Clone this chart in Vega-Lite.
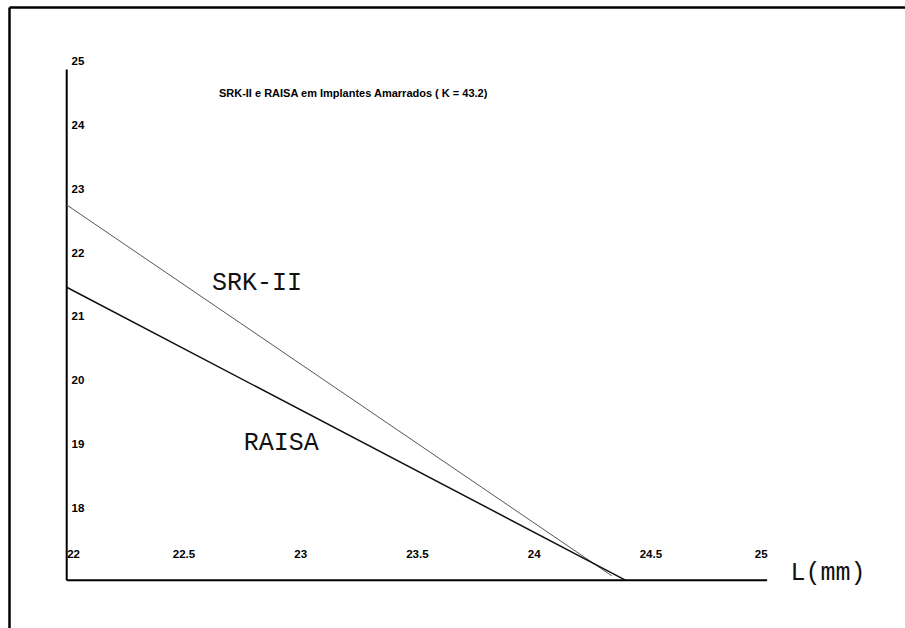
{
  "$schema": "https://vega.github.io/schema/vega-lite/v6.json",
  "width": 896,
  "height": 621,
  "autosize": {"type": "none"},
  "padding": {"left": 9, "top": 7, "right": 0, "bottom": 0},
  "background": "white",
  "config": {"view": {"stroke": null}},
  "datasets": {
    "series": [
      {"series": "SRK-II", "x": 22, "y": 22.88},
      {"series": "SRK-II", "x": 24.335, "y": 17.07},
      {"series": "RAISA", "x": 22, "y": 21.59},
      {"series": "RAISA", "x": 24.395, "y": 17.0}
    ],
    "axislines": [
      {"x": 22, "y": 17, "x2": 22, "y2": 25},
      {"x": 22, "y": 17, "x2": 25, "y2": 17}
    ],
    "title": [
      {"x": 22.652, "y": 24.611, "label": "SRK-II e RAISA em Implantes Amarrados ( K = 43.2)"}
    ],
    "labels": [
      {"x": 22.622, "y": 21.669, "label": "SRK-II"},
      {"x": 22.7585, "y": 19.163, "label": "RAISA"},
      {"x": 25.1, "y": 17.124, "label": "L(mm)"}
    ]
  },
  "encoding": {
    "x": {
      "field": "x",
      "type": "quantitative",
      "scale": {"domain": [21.7528, 25.5908], "nice": false, "zero": false},
      "axis": {
        "orient": "top",
        "title": null,
        "grid": false,
        "ticks": false,
        "domain": true,
        "domainColor": "black",
        "domainWidth": 2.5,
        "values": [22, 22.5, 23, 23.5, 24, 24.5, 25],
        "format": "~g",
        "labelPadding": -547,
        "labelBaseline": "middle",
        "labelAlign": {"condition": [{"test": "datum.value == 22", "value": "left"}, {"test": "datum.value == 25", "value": "right"}], "value": "center"},
        "labelFont": "Liberation Sans",
        "labelFontWeight": "bold",
        "labelFontSize": 11.5,
        "labelColor": "black",
        "labelOverlap": false,
        "labelBound": false,
        "labelFlush": false
      }
    },
    "y": {
      "field": "y",
      "type": "quantitative",
      "scale": {"domain": [16.2529, 25.9805], "nice": false, "zero": false},
      "axis": {
        "orient": "left",
        "title": null,
        "grid": false,
        "ticks": false,
        "domain": true,
        "domainColor": "black",
        "domainWidth": 2.5,
        "values": [18, 19, 20, 21, 22, 23, 24, 25],
        "format": "d",
        "labelPadding": -62,
        "labelAlign": "left",
        "labelBaseline": "bottom",
        "labelOffset": -3,
        "labelFont": "Liberation Sans",
        "labelFontWeight": "bold",
        "labelFontSize": 11.5,
        "labelColor": "black",
        "labelOverlap": false,
        "labelBound": false,
        "labelFlush": false
      }
    }
  },
  "layer": [
    {
      "data": {"name": "axislines"},
      "mark": {"type": "rule", "color": "black", "strokeWidth": 2},
      "encoding": {"x2": {"field": "x2"}, "y2": {"field": "y2"}}
    },
    {
      "data": {"name": "series"},
      "transform": [{"filter": "datum.series == 'SRK-II'"}],
      "mark": {"type": "line", "color": "#555555", "strokeWidth": 1},
      "encoding": {"detail": {"field": "series", "type": "nominal"}}
    },
    {
      "data": {"name": "series"},
      "transform": [{"filter": "datum.series == 'RAISA'"}],
      "mark": {"type": "line", "color": "#111111", "strokeWidth": 1.5},
      "encoding": {"detail": {"field": "series", "type": "nominal"}}
    },
    {
      "data": {"name": "title"},
      "mark": {"type": "text", "align": "left", "baseline": "middle", "font": "Liberation Sans", "fontWeight": "bold", "fontSize": 11, "color": "black"},
      "encoding": {"text": {"field": "label"}}
    },
    {
      "data": {"name": "labels"},
      "mark": {"type": "text", "align": "left", "baseline": "middle", "font": "Liberation Mono", "fontSize": 25, "color": "#111111"},
      "encoding": {"text": {"field": "label"}}
    }
  ]
}
